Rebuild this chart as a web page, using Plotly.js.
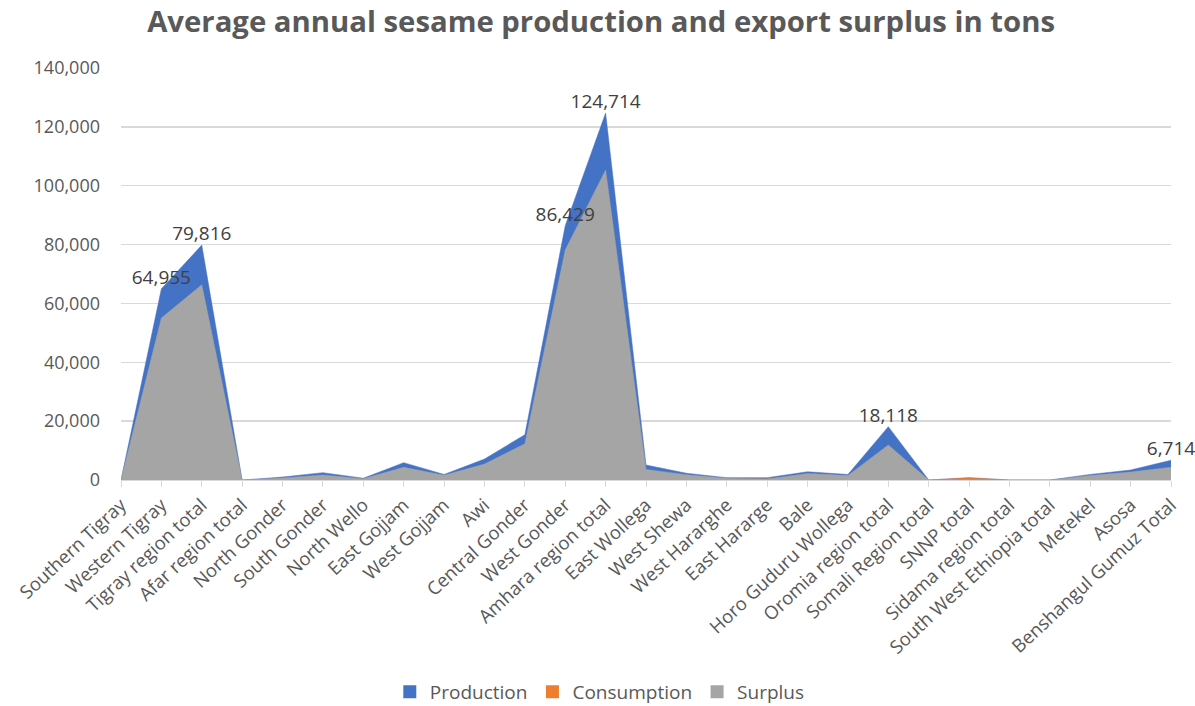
<!DOCTYPE html>
<html>
<head>
<meta charset="utf-8">
<script src="https://cdn.plot.ly/plotly-3.0.1.min.js"></script>
<style>html,body{margin:0;padding:0;background:#fff;}#chart{width:1195px;height:706px;}</style>
</head>
<body>
<div id="chart"></div>
<script>
var categories = ["Southern Tigray","Western Tigray","Tigray region total","Afar region total","North Gonder","South Gonder","North Wello","East Gojjam","West Gojjam","Awi","Central Gonder","West Gonder","Amhara region total","East Wollega","West Shewa","West Hararghe","East Hararge","Bale","Horo Guduru Wollega","Oromia region total","Somali Region total","SNNP total","Sidama region total","South West Ethiopia total","Metekel","Asosa","Benshangul Gumuz Total"];
var production = [0,64955,79816,0,1000,2500,600,5900,1900,7100,15400,86429,124714,5100,2300,800,800,2800,1900,18118,0,800,0,0,1900,3400,6714];
var consumption = [0,9900,13500,0,300,800,200,1600,300,1700,3100,8300,19400,1500,500,200,500,600,400,6200,0,700,0,0,400,700,2400];
var surplus = [0,55055,66316,0,700,1700,400,4300,1600,5400,12300,78129,105314,3600,1800,600,300,2200,1500,11918,0,100,0,0,1500,2700,4314];
var seriesNames = ["Production","Consumption","Surplus"];
var labelIdx = [1,2,11,12,19,26];

var colors = ['#4472C4','#ED7D31','#A5A5A5'];
var seriesData = [production, consumption, surplus];
var labels = production.map(function(v,i){ return labelIdx.indexOf(i) >= 0 ? v.toLocaleString('en-US') : ''; });

var traces = [];
seriesData.forEach(function(y, k){
  traces.push({type:'scatter', mode:'lines', name:seriesNames[k], x:categories, y:y, fill:'tozeroy',
    fillcolor:colors[k], line:{color:colors[k], width:0.5}, showlegend:false, legendgroup:seriesNames[k]});
});
traces.push({type:'scatter', mode:'text', x:categories, y:production, text:labels, textposition:'top center',
   cliponaxis:false, textfont:{family:'Open Sans, sans-serif', size:19, color:'#404040'}, showlegend:false, hoverinfo:'skip'});
seriesNames.forEach(function(n, k){
  traces.push({type:'scatter', mode:'markers', name:n, x:[null], y:[null], legendgroup:n,
    marker:{symbol:'square', size:13, color:colors[k]}, showlegend:true});
});

var layout = {
  width:1195, height:706,
  margin:{l:121, r:24, t:68, b:226},
  paper_bgcolor:'#fff', plot_bgcolor:'#fff',
  font:{family:'Open Sans, sans-serif', color:'#595959'},
  title:{text:'<b>Average annual sesame production and export surplus in tons</b>', x:0.503, xanchor:'center', y:0.969, yanchor:'middle',
    font:{family:'Open Sans, sans-serif', size:29.3, color:'#595959'}},
  xaxis:{type:'category', range:[0,26], tickangle:-43, ticks:'outside', ticklen:6, tickcolor:'#d9d9d9',
    showline:true, linecolor:'#d9d9d9', linewidth:1, showgrid:false, zeroline:false, automargin:false,
    tickfont:{size:18.5, color:'#595959'}},
  yaxis:{range:[0,140000], dtick:20000, tickformat:',d', showgrid:true, gridcolor:'#d9d9d9', gridwidth:1.5,
    zeroline:false, showline:false, ticks:'', ticklabelstandoff:20, automargin:false, tickfont:{size:18, color:'#595959'}},
  legend:{orientation:'h', xref:'paper', x:0.456, xanchor:'center', yref:'container', y:0.02, yanchor:'middle', font:{size:19, color:'#595959'},
    traceorder:'normal', itemwidth:30},
  showlegend:true
};
Plotly.newPlot('chart', traces, layout, {displayModeBar:false, staticPlot:true});
</script>
</body>
</html>
